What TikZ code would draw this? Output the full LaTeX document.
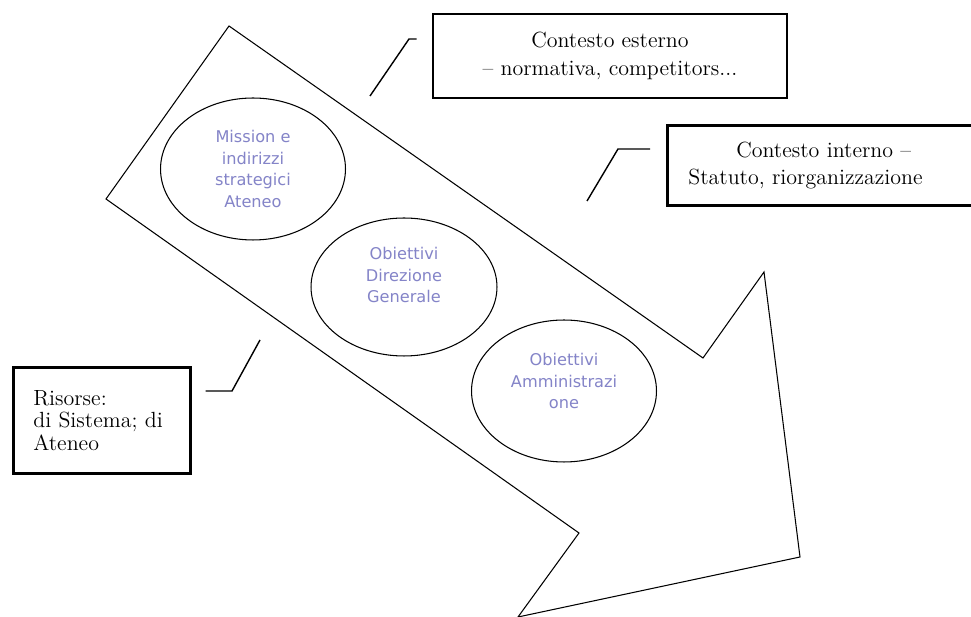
\documentclass[tikz,border=0pt]{standalone}
\usepackage{fontspec}
\newfontfamily\goalfont{DejaVu Sans}
\usetikzlibrary{shapes.geometric, positioning, calc}
\definecolor{goalblue}{RGB}{132,132,200}
\tikzset{
    shaft/.style={
        draw=black,
        line width=0.6pt,
        line join=miter,
        fill=white
    },
    goal/.style={
        ellipse,
        draw=black,
        line width=0.6pt,
        fill=white,
        minimum width=3.7cm,
        minimum height=2.84cm
    },
    goaltext/.style={
        align=center,
        text=goalblue,
        font=\goalfont\fontsize{9.2}{12.5}\selectfont
    },
    ctxbox/.style={
        rectangle,
        draw=black,
        line width=1.5pt,
        fill=white,
        font=\fontsize{12.5}{15.5}\selectfont
    },
    leader/.style={
        draw=black,
        line width=0.8pt
    }
}
\begin{document}
\begin{tikzpicture}[x=0.02cm, y=-0.02cm]
\useasboundingbox (0,0) rectangle (971,617);

\draw[shaft] (229,26) -- (703,358) -- (764,272) -- (800,557) -- (518,617) -- (579,533) -- (106,199) -- cycle;

\node[goal] (mission) at (253,169) {};
\node[goaltext] (missionT) at (mission.center) {Mission e\\indirizzi\\strategici\\Ateneo};
\node[goal, minimum width=3.72cm, minimum height=2.76cm] (dg) at (404,287) {};
\node[goaltext] (dgT) at ([yshift=0.24cm]dg.center) {Obiettivi\\Direzione\\Generale};
\node[goal] (amm) at (564,391) {};
\node[goaltext] (ammT) at ([yshift=0.2cm]amm.center) {Obiettivi\\Amministrazi\\one};

\node[ctxbox, minimum width=7.08cm, minimum height=1.68cm, align=center] (ext) at (610,56) {Contesto esterno\\-- normativa, competitors...};
\node[ctxbox, anchor=north west, inner xsep=0.42cm, text width=5.6cm, minimum height=1.6cm, align=left] (int) at (666,124) {\hspace*{0.96cm}Contesto interno --\\Statuto, riorganizzazione};
\node[ctxbox, anchor=north west, inner xsep=0.4cm, text width=2.74cm, minimum height=2.12cm, align=left, font=\fontsize{12.5}{12.8}\selectfont] (res) at (12,366) {Risorse:\\di Sistema; di\\Ateneo};

\coordinate (extA) at (370,96);
\coordinate (extB) at (409,39);
\coordinate (extC) at (extB -| ext.west);
\coordinate (intA) at (587,201);
\coordinate (intB) at (618,149);
\coordinate (intC) at (intB -| int.west);
\coordinate (resA) at (260,340);
\coordinate (resB) at (232,391);
\coordinate (resC) at (resB -| res.east);
\draw[leader] (extA) -- (extB) -- ([xshift=-0.3cm]extC);
\draw[leader] (intA) -- (intB) -- ([xshift=-0.32cm]intC);
\draw[leader] (resA) -- (resB) -- ([xshift=0.28cm]resC);

\end{tikzpicture}
\end{document}
